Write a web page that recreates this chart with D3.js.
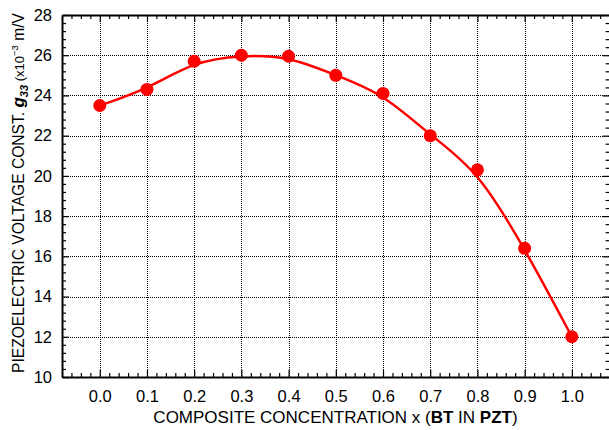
<!DOCTYPE html>
<html><head><meta charset="utf-8">
<script src="https://cdn.jsdelivr.net/npm/d3@7"></script>
<style>body{margin:0;background:#fff}svg{display:block}text{font-family:"Liberation Sans",Arial,sans-serif}</style>
</head><body>
<svg id="c" width="609" height="430"></svg>
<script>
const xValues = [0.0, 0.1, 0.2, 0.3, 0.4, 0.5, 0.6, 0.7, 0.8, 0.9, 1.0];
const g33Values = [23.5, 24.3, 25.7, 26.0, 25.95, 25.0, 24.1, 22.0, 20.3, 16.4, 12.0];
const xTicks = [0.0, 0.1, 0.2, 0.3, 0.4, 0.5, 0.6, 0.7, 0.8, 0.9, 1.0];
const yTicks = [10, 12, 14, 16, 18, 20, 22, 24, 26, 28];

const svg = d3.select("#c");
const L = 62, R = 609.6, T = 15, B = 377;
const x = d3.scaleLinear().domain([-0.08, 1.08]).range([L, R]);
const y = d3.scaleLinear().domain([10, 28]).range([B, T]);

// gridlines
const grid = svg.append("g").attr("stroke", "#000").attr("stroke-width", 1).attr("stroke-dasharray", "1,1");
xTicks.forEach(v => grid.append("line").attr("x1", Math.round(x(v)) + 0.5).attr("x2", Math.round(x(v)) + 0.5).attr("y1", T).attr("y2", B));
yTicks.forEach(v => grid.append("line").attr("y1", Math.round(y(v)) + 0.5).attr("y2", Math.round(y(v)) + 0.5).attr("x1", L).attr("x2", R));

// minor ticks
const xMinor = d3.range(-0.06, 1.08, 0.02).filter(v => Math.abs(Math.round(v * 10) - v * 10) > 0.05);
const yMinor = d3.range(10.4, 28, 0.4).filter(v => Math.abs(Math.round(v / 2) * 2 - v) > 0.05);

// axes with inward ticks
const axB = svg.append("g").attr("transform", `translate(0,${B})`)
  .call(d3.axisBottom(x).tickValues(xTicks).tickFormat(d3.format(".1f")).tickSizeInner(-7).tickSizeOuter(0).tickPadding(13));
const axT = svg.append("g").attr("transform", `translate(0,${T})`)
  .call(d3.axisTop(x).tickValues(xTicks).tickFormat("").tickSizeInner(-7).tickSizeOuter(0));
const axL = svg.append("g").attr("transform", `translate(${L},0)`)
  .call(d3.axisLeft(y).tickValues(yTicks).tickFormat(d3.format("d")).tickSizeInner(-7).tickSizeOuter(0).tickPadding(10));
const axR = svg.append("g").attr("transform", `translate(${R},0)`)
  .call(d3.axisRight(y).tickValues(yTicks).tickFormat("").tickSizeInner(-7).tickSizeOuter(0));

svg.append("g").attr("transform", `translate(0,${B})`).call(d3.axisBottom(x).tickValues(xMinor).tickFormat("").tickSizeInner(-4).tickSizeOuter(0)).select(".domain").remove();
svg.append("g").attr("transform", `translate(0,${T})`).call(d3.axisTop(x).tickValues(xMinor).tickFormat("").tickSizeInner(-4).tickSizeOuter(0)).select(".domain").remove();
svg.append("g").attr("transform", `translate(${L},0)`).call(d3.axisLeft(y).tickValues(yMinor).tickFormat("").tickSizeInner(-4).tickSizeOuter(0)).select(".domain").remove();
svg.append("g").attr("transform", `translate(${R},0)`).call(d3.axisRight(y).tickValues(yMinor).tickFormat("").tickSizeInner(-4).tickSizeOuter(0)).select(".domain").remove();

svg.selectAll(".domain").attr("stroke-width", 2);
svg.selectAll(".tick line").attr("stroke-width", 1.2);
svg.selectAll(".tick text").attr("font-size", 16.5).attr("fill", "#000").attr("font-family", '"Liberation Sans",Arial,sans-serif');

// line and markers
const pts = xValues.map((v, i) => [v, g33Values[i]]);
svg.append("path").datum(pts)
  .attr("d", d3.line().x(d => x(d[0])).y(d => y(d[1])).curve(d3.curveBasis))
  .attr("fill", "none").attr("stroke", "#ff0000").attr("stroke-width", 2.5);
svg.append("g").selectAll("circle").data(pts).join("circle")
  .attr("cx", d => x(d[0])).attr("cy", d => y(d[1])).attr("r", 6.5).attr("fill", "#ff0000");

// x title
const xt = svg.append("text").attr("x", 335.5).attr("y", 423).attr("text-anchor", "middle").attr("font-size", 17);
xt.append("tspan").text("COMPOSITE CONCENTRATION x (");
xt.append("tspan").attr("font-weight", "bold").text("BT");
xt.append("tspan").text(" IN ");
xt.append("tspan").attr("font-weight", "bold").text("PZT");
xt.append("tspan").text(")");

// y title
const yt = svg.append("text").attr("transform", "translate(24,373) rotate(-90)").attr("text-anchor", "start").attr("font-size", 15.6);
yt.append("tspan").text("PIEZOELECTRIC VOLTAGE CONST. ");
yt.append("tspan").attr("font-weight", "bold").attr("font-style", "italic").attr("font-size", 17).text("g");
yt.append("tspan").attr("font-weight", "bold").attr("font-style", "italic").attr("font-size", 11).attr("dy", 4).text("33");
yt.append("tspan").attr("font-size", 13).attr("dy", -4).text(" (x10");
yt.append("tspan").attr("font-size", 9.5).attr("dy", -6).text("\u22123");
yt.append("tspan").attr("font-size", 15.6).attr("dy", 6).text(" m/V");
</script>
</body></html>
